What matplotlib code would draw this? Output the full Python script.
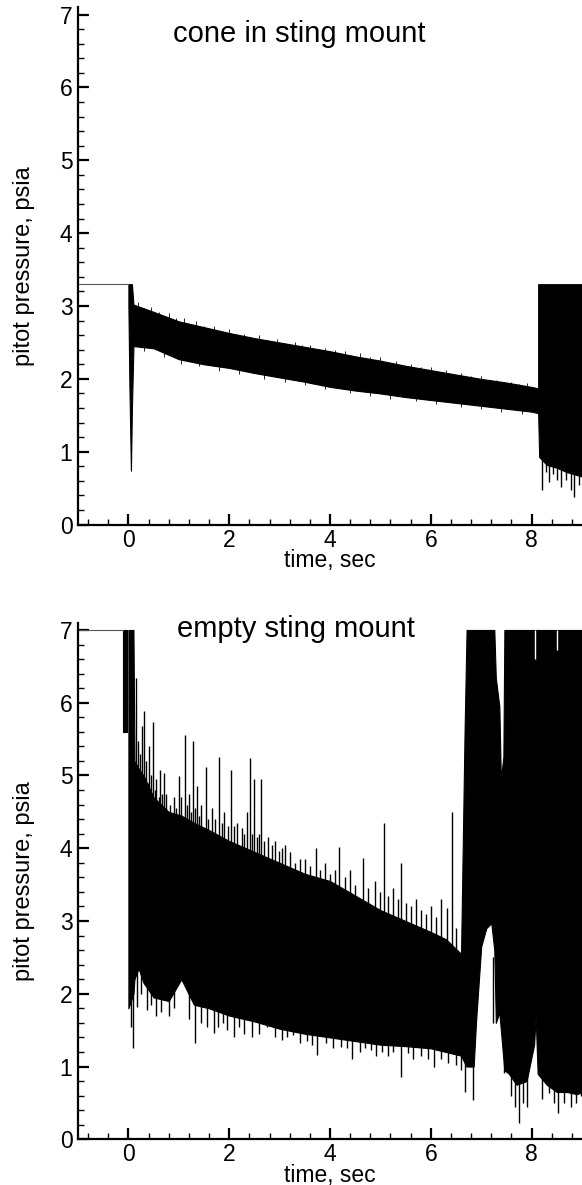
import matplotlib
matplotlib.use("Agg")
import matplotlib.pyplot as plt
from matplotlib.ticker import MultipleLocator

plt.rcParams['font.family'] = ['Liberation Sans', 'DejaVu Sans']

# ---- cone in sting mount ----
cone_pre_t = [-1.0, 0.0]
cone_pre_p = [3.3, 3.3]
cone_t = [0.0, 0.02, 0.05, 0.07, 0.1, 0.5, 1.0, 1.5, 2.0, 2.5, 3.0, 3.5, 4.0,
          4.5, 5.0, 5.5, 6.0, 6.5, 7.0, 7.5, 8.0, 8.13]
cone_hi = [3.3, 3.3, 3.3, 3.3, 3.02, 2.92, 2.79, 2.71, 2.63, 2.56, 2.5, 2.44, 2.38,
           2.31, 2.25, 2.18, 2.12, 2.06, 2.0, 1.95, 1.89, 1.87]
cone_lo = [3.0, 1.9, 0.74, 1.6, 2.45, 2.42, 2.27, 2.2, 2.15, 2.08, 2.02, 1.96, 1.89,
           1.84, 1.8, 1.75, 1.71, 1.67, 1.63, 1.59, 1.55, 1.53]
cone_up_t = [0.2, 0.3, 0.45, 0.6, 0.8, 0.95, 1.1, 1.35, 1.5, 1.7, 2.0, 2.15, 2.3,
             2.6, 2.75, 2.95, 3.3, 3.45, 3.6, 3.9, 4.1, 4.3, 4.6, 4.8, 5.0, 5.3,
             5.6, 5.8, 6.0, 6.3, 6.6, 6.8, 7.0, 7.3, 7.6, 7.75, 7.9]
cone_up_p = [3.05, 2.97, 2.98, 2.92, 2.9, 2.83, 2.83, 2.8, 2.72, 2.72, 2.69, 2.62, 2.62,
             2.6, 2.54, 2.55, 2.5, 2.46, 2.47, 2.43, 2.39, 2.38, 2.35, 2.3, 2.3, 2.24,
             2.2, 2.16, 2.16, 2.12, 2.08, 2.04, 2.04, 1.99, 1.96, 1.93, 1.94]
cone_dn_t = [0.3, 0.7, 1.05, 1.4, 1.8, 2.2, 2.7, 3.1, 3.5, 3.9, 4.4, 4.8, 5.2,
             5.7, 6.1, 6.6, 7.0, 7.4, 7.8]
cone_dn_p = [2.38, 2.3, 2.2, 2.17, 2.11, 2.07, 2.0, 1.96, 1.91, 1.86, 1.81, 1.77, 1.73,
             1.69, 1.66, 1.62, 1.59, 1.55, 1.52]
cone_end_t = [8.13, 8.15, 8.3, 8.5, 8.7, 8.9, 9.0]
cone_end_hi = [3.3, 3.3, 3.3, 3.3, 3.3, 3.3, 3.3]
cone_end_lo = [1.53, 0.93, 0.82, 0.78, 0.72, 0.68, 0.66]
cone_spike_t = [8.21, 8.29, 8.35, 8.42, 8.5, 8.58, 8.68, 8.78, 8.84, 8.95]
cone_spike_p = [0.47, 0.72, 0.59, 0.70, 0.61, 0.52, 0.61, 0.47, 0.38, 0.55]

# ---- empty sting mount ----
empty_pre_t = [-1.0, -0.1]
empty_pre_p = [7.0, 7.0]
burst_t = [-0.1, -0.03]
burst_hi = [7.0, 7.0]
burst_lo = [5.6, 5.6]
empty_t = [0.0, 0.1, 0.12, 0.2, 0.3, 0.5, 0.8, 1.05, 1.3, 1.6, 2.0, 2.5, 3.0, 3.5,
           4.0, 4.5, 5.0, 5.5, 6.0, 6.3, 6.6, 6.67, 6.71, 6.85, 6.9, 7.0, 7.1,
           7.2, 7.26, 7.29, 7.36, 7.39, 7.44, 7.46, 7.55, 7.7, 7.9, 8.05, 8.08,
           8.12, 8.3, 8.5, 8.7, 8.9, 9.0]
empty_hi = [7.0, 7.0, 5.2, 5.1, 5.0, 4.7, 4.5, 4.45, 4.35, 4.25, 4.1, 3.95, 3.8, 3.65,
            3.55, 3.35, 3.15, 3.0, 2.85, 2.75, 2.55, 5.6, 7.0, 7.0, 7.0, 7.0, 7.0,
            7.0, 7.0, 6.34, 5.95, 4.94, 5.26, 7.0, 7.0, 7.0, 7.0, 7.0, 7.0,
            7.0, 7.0, 7.0, 7.0, 7.0, 7.0]
empty_lo = [1.8, 2.0, 2.2, 2.35, 2.15, 1.95, 1.9, 2.2, 1.85, 1.8, 1.7, 1.62, 1.52, 1.45,
            1.4, 1.35, 1.3, 1.28, 1.25, 1.2, 1.15, 1.05, 1.0, 1.0, 1.64, 2.65, 2.9,
            2.97, 2.6, 1.6, 1.74, 1.5, 1.1, 0.95, 0.9, 0.75, 0.8, 1.3, 1.7, 0.9,
            0.75, 0.65, 0.65, 0.62, 0.65]
# spikes above the dense band
up_t = [0.15, 0.2, 0.24, 0.27, 0.31, 0.35, 0.38, 0.41, 0.45, 0.48, 0.52, 0.55, 0.6,
        0.63, 0.67, 0.71, 0.75, 0.82, 0.9, 0.95, 1.0, 1.05, 1.12, 1.16, 1.2, 1.25,
        1.29, 1.33, 1.37, 1.41, 1.45, 1.53, 1.58, 1.65, 1.72, 1.8, 1.85, 1.9, 1.97,
        2.03, 2.1, 2.15, 2.25, 2.3, 2.35, 2.41, 2.45, 2.5, 2.55, 2.6, 2.64, 2.7,
        2.77, 2.85, 2.9, 2.99, 3.05, 3.1, 3.2, 3.3, 3.4, 3.5, 3.6, 3.73, 3.8, 3.9,
        4.0, 4.1, 4.18, 4.3, 4.4, 4.5, 4.65, 4.75, 4.9, 5.0, 5.08, 5.15, 5.25,
        5.35, 5.41, 5.5, 5.6, 5.7, 5.8, 5.9, 6.0, 6.1, 6.2, 6.32, 6.42, 6.5]
up_p = [6.34, 5.47, 5.3, 5.68, 5.88, 5.2, 4.9, 5.40, 5.0, 5.74, 4.8, 4.95, 4.7,
        5.08, 4.75, 5.03, 4.75, 4.6, 4.7, 4.55, 4.99, 4.7, 5.55, 4.6, 4.75, 4.5,
        5.48, 4.55, 4.85, 4.45, 4.6, 5.12, 4.4, 4.55, 4.4, 5.25, 4.35, 4.5, 4.3,
        5.08, 4.3, 4.35, 4.28, 4.2, 4.5, 5.24, 4.2, 4.95, 4.15, 4.2, 4.95, 4.1,
        4.16, 4.05, 4.1, 3.96, 4.0, 4.05, 3.95, 3.80, 3.85, 3.85, 3.75, 4.0, 3.7,
        3.8, 3.65, 3.7, 4.02, 3.6, 3.7, 3.5, 3.87, 3.45, 3.55, 3.4, 4.35, 3.35,
        3.45, 3.3, 3.80, 3.25, 3.2, 3.3, 3.15, 3.1, 3.2, 3.05, 3.3, 3.18, 4.50,
        2.9]
# spikes below the dense band
dn_t = [0.05, 0.09, 0.18, 0.25, 0.36, 0.45, 0.55, 0.65, 0.8, 0.9, 1.2, 1.32, 1.45,
        1.55, 1.69, 1.78, 1.87, 1.95, 2.1, 2.2, 2.3, 2.46, 2.6, 2.75, 2.9, 3.05,
        3.15, 3.27, 3.41, 3.55, 3.65, 3.74, 3.93, 4.05, 4.22, 4.33, 4.44, 4.6,
        4.7, 4.81, 4.92, 5.03, 5.15, 5.25, 5.4, 5.54, 5.65, 5.8, 5.95, 6.06, 6.2,
        6.35, 6.5, 6.6, 6.68, 6.83, 7.24, 7.35, 7.46, 7.6, 7.68, 7.75, 7.83, 7.9,
        8.2, 8.34, 8.45, 8.52, 8.65, 8.78, 8.88, 8.99]
dn_p = [1.55, 1.25, 1.82, 2.0, 1.78, 1.85, 1.69, 1.75, 1.69, 1.8, 1.65, 1.32, 1.6,
        1.55, 1.46, 1.55, 1.6, 1.5, 1.41, 1.55, 1.45, 1.41, 1.45, 1.55, 1.4, 1.37,
        1.4, 1.43, 1.32, 1.35, 1.3, 1.16, 1.32, 1.25, 1.27, 1.25, 1.11, 1.2,
        1.25, 1.23, 1.15, 1.2, 1.15, 1.2, 0.86, 1.18, 1.1, 1.15, 1.1, 1.0, 1.1,
        1.05, 1.02, 0.95, 0.65, 0.54, 1.6, 1.74, 0.91, 0.6, 0.45, 0.22, 0.5,
        0.45, 0.55, 0.63, 0.5, 0.36, 0.5, 0.45, 0.5, 0.59]
# short dips from the saturated top
notch_t = [8.06, 8.51]
notch_p = [6.6, 6.73]


def style(ax):
    ax.set_xlim(-1, 9)
    ax.set_ylim(0, 7.1)
    for s in ['top', 'right']:
        ax.spines[s].set_visible(False)
    for s in ['left', 'bottom']:
        ax.spines[s].set_linewidth(1.6)
    ax.xaxis.set_major_locator(MultipleLocator(2))
    ax.xaxis.set_minor_locator(MultipleLocator(0.4))
    ax.yaxis.set_major_locator(MultipleLocator(1))
    ax.yaxis.set_minor_locator(MultipleLocator(0.2))
    ax.tick_params(which='both', direction='in', top=False, right=False)
    ax.tick_params(which='major', length=8, width=1.6, labelsize=16.5)
    ax.tick_params(which='minor', length=4.5, width=1.0)
    ax.tick_params(axis='x', which='major', pad=3)
    ax.tick_params(axis='y', which='major', pad=4)
    ax.set_xlabel('time, sec', fontsize=16.5)
    ax.set_ylabel('pitot pressure, psia', fontsize=17)
    ax.xaxis.set_label_coords(0.5, -0.047)
    ax.yaxis.set_label_coords(-0.085, 0.5)


fig = plt.figure(figsize=(5.82, 11.85), dpi=100)

ax1 = fig.add_axes([78 / 582, 660.4 / 1185, 504 / 582, 517.3 / 1185])
ax1.plot(cone_pre_t, cone_pre_p, color='0.35', lw=0.8)
ax1.fill_between(cone_t, cone_lo, cone_hi, color='black', lw=0.8)
ax1.vlines(cone_up_t, [p - 0.2 for p in cone_up_p], cone_up_p, color='black', lw=0.6)
ax1.vlines(cone_dn_t, cone_dn_p, [p + 0.2 for p in cone_dn_p], color='black', lw=0.6)
ax1.fill_between(cone_end_t, cone_end_lo, cone_end_hi, color='black', lw=0.8)
ax1.vlines(cone_spike_t, cone_spike_p, 1.5, color='black', lw=1)
ax1.text(3.38, 6.63, 'cone in sting mount', fontsize=21, ha='center', va='baseline')
style(ax1)

ax2 = fig.add_axes([78 / 582, 45.7 / 1185, 504 / 582, 516.6 / 1185])
ax2.plot(empty_pre_t, empty_pre_p, color='0.35', lw=0.8)
ax2.fill_between(burst_t, burst_lo, burst_hi, color='black', lw=0.8)
ax2.fill_between(empty_t, empty_lo, empty_hi, color='black', lw=0.8)
ax2.vlines(up_t, 2.5, up_p, color='black', lw=1)
ax2.vlines(dn_t, dn_p, 2.5, color='black', lw=1)
ax2.vlines(notch_t, notch_p, 7.0, color='white', lw=1)
ax2.text(3.33, 6.9, 'empty sting mount', fontsize=21, ha='center', va='baseline')
style(ax2)

fig.savefig('out.png', dpi=100)
